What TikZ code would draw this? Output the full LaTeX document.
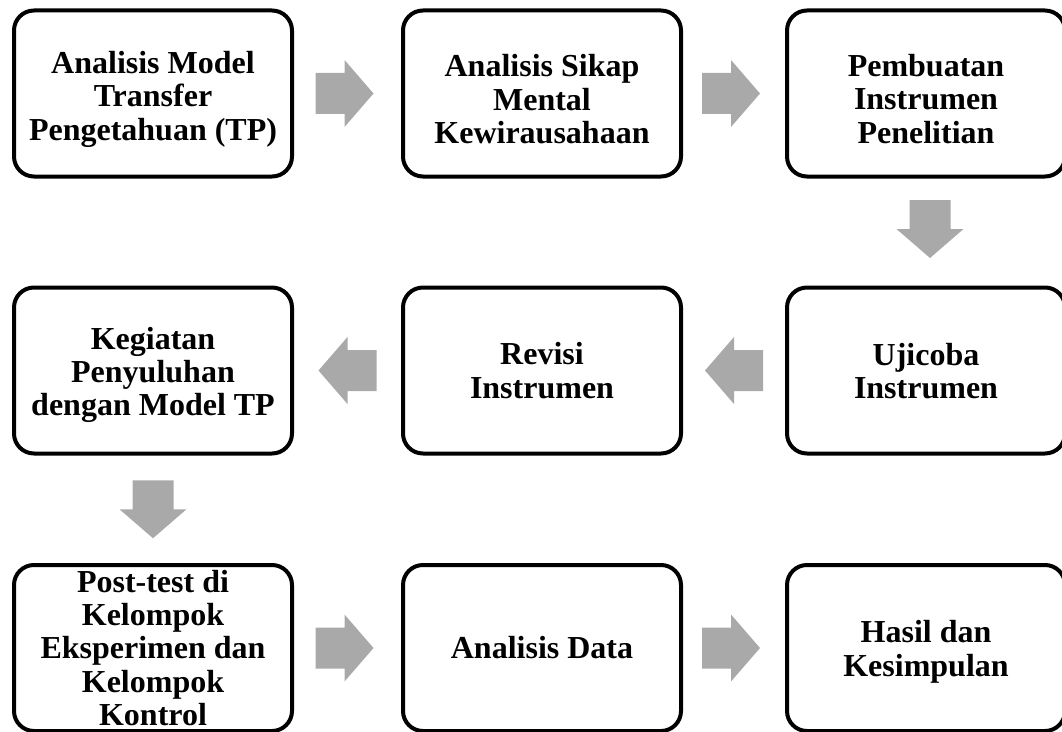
\documentclass[tikz,border=0pt]{standalone}
\usepackage{fontspec}
\setmainfont{Liberation Serif}
\usetikzlibrary{calc}
\definecolor{arrowgray}{RGB}{169,169,169}
\newcommand{\lowerby}[1]{\rule{0pt}{\dimexpr 16.3pt+#1\relax}}
\begin{document}
\begin{tikzpicture}[x=0.75pt,y=-0.75pt,
  box/.style={draw, line width=3pt, rounded corners=15pt,
    minimum width=208.5pt, minimum height=124.5pt, align=center,
    inner sep=0pt, font=\fontsize{24}{25.1}\selectfont\bfseries},
  blockarrow/.pic={\fill[arrowgray] (-29,-20.5) -- (0,-20.5) -- (0,-33.5) -- (29,0)
     -- (0,33.5) -- (0,20.5) -- (-29,20.5) -- cycle;}]
\useasboundingbox (0,0) rectangle (1062,731);
% row 1
\node[box] (b1) at (153,93.5) {\lowerby{9pt}Analisis Model\\Transfer\\Pengetahuan (TP)};
\node[box] (b2) at (542,93.5) {\lowerby{9pt}Analisis Sikap\\Mental\\Kewirausahaan};
\node[box] (b3) at (926,93.5) {\lowerby{8pt}Pembuatan\\Instrumen\\Penelitian};
% row 2
\node[box] (b4) at (153,370.5) {\lowerby{7pt}Kegiatan\\Penyuluhan\\dengan Model TP};
\node[box] (b5) at (542,370.5) {Revisi\\Instrumen};
\node[box] (b6) at (926,370.5) {\lowerby{1.5pt}Ujicoba\\Instrumen};
% row 3
\node[box] (b7) at (153,648) {Post-test di\\Kelompok\\Eksperimen dan\\Kelompok\\Kontrol};
\node[box] (b8) at (542,648) {Analisis Data};
\node[box] (b9) at (926,648) {\lowerby{6pt}Hasil dan\\Kesimpulan};
% arrows
\coordinate (a12) at ($(b1.east)!0.5!(b2.west)+(-3,0)$);
\coordinate (a23) at ($(b2.east)!0.5!(b3.west)+(-3,0)$);
\coordinate (a36) at ($(b3.south)!0.5!(b6.north)+(4,-3)$);
\coordinate (a65) at ($(b6.west)!0.5!(b5.east)$);
\coordinate (a54) at ($(b5.west)!0.5!(b4.east)$);
\coordinate (a47) at ($(b4.south)!0.5!(b7.north)$);
\coordinate (a78) at ($(b7.east)!0.5!(b8.west)+(-3,0)$);
\coordinate (a89) at ($(b8.east)!0.5!(b9.west)+(-3,0)$);
\pic at (a12) {blockarrow};
\pic at (a23) {blockarrow};
\pic[rotate=-90] at (a36) {blockarrow};
\pic[rotate=180] at (a65) {blockarrow};
\pic[rotate=180] at (a54) {blockarrow};
\pic[rotate=-90] at (a47) {blockarrow};
\pic at (a78) {blockarrow};
\pic at (a89) {blockarrow};
\end{tikzpicture}
\end{document}
